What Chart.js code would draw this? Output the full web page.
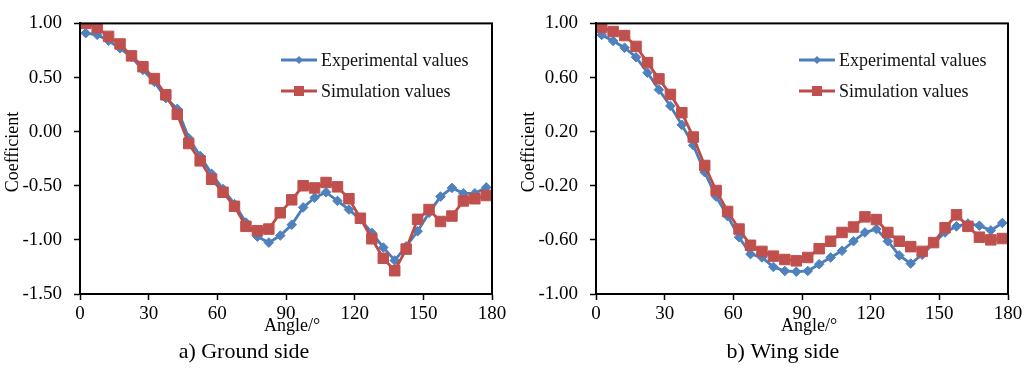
<!DOCTYPE html>
<html>
<head>
<meta charset="utf-8">
<script src="https://cdn.jsdelivr.net/npm/chart.js@4/dist/chart.umd.min.js"></script>
<style>
  html, body { margin: 0; padding: 0; background: #fff; }
  #wrap { position: relative; width: 1035px; height: 368px; overflow: hidden; }
  .panel { position: absolute; top: 0; height: 368px; }
</style>
</head>
<body>
<div id="wrap">
  <div class="panel" style="left:0;width:515px"><canvas id="ground"></canvas></div>
  <div class="panel" style="left:515px;width:520px"><canvas id="wing"></canvas></div>
</div>
<script>
// Measurement angles (degrees)
const angles = [2.5, 7.5, 12.5, 17.5, 22.5, 27.5, 32.5, 37.5, 42.5, 47.5, 52.5, 57.5,
                62.5, 67.5, 72.5, 77.5, 82.5, 87.5, 92.5, 97.5, 102.5, 107.5, 112.5, 117.5,
                122.5, 127.5, 132.5, 137.5, 142.5, 147.5, 152.5, 157.5, 162.5, 167.5, 172.5, 177.5];

// a) Ground side
const groundExperimental = [0.91, 0.895, 0.84, 0.77, 0.69, 0.57, 0.46, 0.31, 0.21, -0.06, -0.225, -0.39,
                            -0.53, -0.67, -0.84, -0.97, -1.025, -0.96, -0.86, -0.70, -0.61, -0.56, -0.64, -0.72,
                            -0.81, -0.935, -1.07, -1.19, -1.06, -0.92, -0.75, -0.60, -0.52, -0.57, -0.57, -0.515];
const groundSimulation   = [1.00, 0.96, 0.88, 0.81, 0.70, 0.60, 0.49, 0.34, 0.16, -0.11, -0.27, -0.44,
                            -0.56, -0.69, -0.875, -0.915, -0.90, -0.75, -0.63, -0.50, -0.52, -0.47, -0.51, -0.62,
                            -0.80, -0.99, -1.17, -1.285, -1.085, -0.81, -0.72, -0.83, -0.78, -0.64, -0.62, -0.59];

// b) Wing side
const wingExperimental = [0.915, 0.87, 0.82, 0.75, 0.635, 0.51, 0.39, 0.25, 0.10, -0.10, -0.28, -0.425,
                          -0.58, -0.705, -0.73, -0.80, -0.83, -0.835, -0.83, -0.78, -0.73, -0.68, -0.61, -0.545,
                          -0.52, -0.61, -0.715, -0.775, -0.71, -0.625, -0.545, -0.50, -0.48, -0.495, -0.53, -0.475];
const wingSimulation   = [0.97, 0.94, 0.91, 0.83, 0.71, 0.59, 0.475, 0.34, 0.16, -0.05, -0.235, -0.39,
                          -0.52, -0.64, -0.685, -0.72, -0.745, -0.755, -0.73, -0.665, -0.61, -0.545, -0.505, -0.43,
                          -0.45, -0.545, -0.61, -0.65, -0.685, -0.62, -0.51, -0.415, -0.50, -0.58, -0.60, -0.59];

// Tick labels
const angleTicks  = ['0', '30', '60', '90', '120', '150', '180'];
const groundTicks = ['-1.50', '-1.00', '-0.50', '0.00', '0.50', '1.00'];
const wingTicks   = ['-1.00', '-0.60', '-0.20', '0.20', '0.60', '1.00'];

const seriesNames = ['Experimental values', 'Simulation values'];
const xTitle = 'Angle/\u00B0';
const yTitle = 'Coefficient';

const FONT = '"Liberation Serif", "Times New Roman", serif';
const BLUE = '#4A7EBB', BLUE_PT = '#4F81BD';
const RED = '#BE4B48', RED_PT = '#C0504D';

function ticksFrom(labels) {
  return (axis) => { axis.ticks = labels.map(l => ({ value: parseFloat(l) })); };
}
function labelFor(labels) {
  return (v) => {
    const hit = labels.find(l => Math.abs(parseFloat(l) - v) < 1e-9);
    return hit !== undefined ? hit : '';
  };
}

// Frame, axis titles, caption and in-plot legend
const decorations = {
  id: 'decorations',
  afterDraw(chart, args, o) {
    const { ctx, chartArea: a } = chart;
    const ds = chart.data.datasets;
    ctx.save();
    ctx.strokeStyle = '#000';
    ctx.lineWidth = 2;
    ctx.strokeRect(a.left, a.top, a.right - a.left, a.bottom - a.top);

    ctx.fillStyle = '#000';
    ctx.textAlign = 'center';
    ctx.textBaseline = 'middle';
    ctx.font = '18px ' + FONT;
    ctx.fillText(xTitle, o.xTitleX, o.xTitleY);

    ctx.save();
    ctx.translate(o.yTitleX, o.yTitleY);
    ctx.rotate(-Math.PI / 2);
    ctx.fillText(yTitle, 0, 0);
    ctx.restore();

    ctx.font = '22px ' + FONT;
    ctx.fillText(o.caption, o.captionX, o.captionY);

    // legend
    ctx.font = '18px ' + FONT;
    ctx.textAlign = 'left';
    ds.forEach((d, i) => {
      const y = o.legendY[i];
      ctx.strokeStyle = d.borderColor;
      ctx.lineWidth = 2.8;
      ctx.beginPath();
      ctx.moveTo(o.legendX, y);
      ctx.lineTo(o.legendX + 36, y);
      ctx.stroke();
      const cx = o.legendX + 18;
      ctx.fillStyle = d.pointBackgroundColor;
      ctx.beginPath();
      if (d.pointStyle === 'rect') {
        ctx.rect(cx - 5, y - 5, 10, 10);
      } else {
        ctx.moveTo(cx - 4, y); ctx.lineTo(cx, y - 4);
        ctx.lineTo(cx + 4, y); ctx.lineTo(cx, y + 4);
        ctx.closePath();
      }
      ctx.fill();
      ctx.fillStyle = '#111';
      ctx.fillText(seriesNames[i], o.legendX + 40, y + 1);
    });
    ctx.restore();
  }
};

function makeChart(id, exp, sim, yLabels, yMin, yMax, deco) {
  const axisCommon = {
    grid: { display: true, drawOnChartArea: false, drawTicks: true, tickLength: 6, tickColor: '#000', tickWidth: 1.5 },
    border: { display: true, color: '#000', width: 2 }
  };
  return new Chart(document.getElementById(id), {
    type: 'line',
    data: {
      datasets: [
        {
          label: seriesNames[0],
          data: angles.map((x, i) => ({ x, y: exp[i] })),
          borderColor: BLUE, borderWidth: 2.8,
          pointStyle: 'rectRot', pointRadius: 4.8, pointBorderWidth: 1,
          pointBackgroundColor: BLUE_PT, pointBorderColor: BLUE_PT,
          tension: 0, order: 1
        },
        {
          label: seriesNames[1],
          data: angles.map((x, i) => ({ x, y: sim[i] })),
          borderColor: RED, borderWidth: 2.8,
          pointStyle: 'rect', pointRadius: 7.4, pointBorderWidth: 1,
          pointBackgroundColor: RED_PT, pointBorderColor: RED_PT,
          tension: 0, order: 0
        }
      ]
    },
    options: {
      responsive: true,
      maintainAspectRatio: false,
      animation: false,
      events: [],
      layout: { padding: { left: 0, top: 15, right: deco.padRight, bottom: 0 } },
      plugins: {
        legend: { display: false },
        tooltip: { enabled: false },
        decorations: deco
      },
      scales: {
        x: Object.assign({
          type: 'linear', min: 0, max: 180,
          afterBuildTicks: ticksFrom(angleTicks),
          afterFit: (s) => { s.height = 74; },
          ticks: { callback: labelFor(angleTicks), color: '#000', font: { family: FONT, size: 19 }, padding: 3, maxRotation: 0, autoSkip: false }
        }, axisCommon),
        y: Object.assign({
          type: 'linear', min: yMin, max: yMax,
          afterBuildTicks: ticksFrom(yLabels),
          afterFit: (s) => { s.width = deco.axisWidth; },
          ticks: { callback: labelFor(yLabels), color: '#000', font: { family: FONT, size: 19 }, padding: 12, autoSkip: false }
        }, axisCommon)
      }
    },
    plugins: [decorations]
  });
}

makeChart('ground', groundExperimental, groundSimulation, groundTicks, -1.5, 1.0, {
  padRight: 23, axisWidth: 80,
  xTitleX: 292, xTitleY: 326, yTitleX: 13, yTitleY: 152,
  caption: 'a) Ground side', captionX: 244, captionY: 352,
  legendX: 281, legendY: [60, 91]
});
makeChart('wing', wingExperimental, wingSimulation, wingTicks, -1.0, 1.0, {
  padRight: 27, axisWidth: 81,
  xTitleX: 294, xTitleY: 326, yTitleX: 14, yTitleY: 152,
  caption: 'b) Wing side', captionX: 268, captionY: 352,
  legendX: 284, legendY: [60, 91]
});
</script>
</body>
</html>
